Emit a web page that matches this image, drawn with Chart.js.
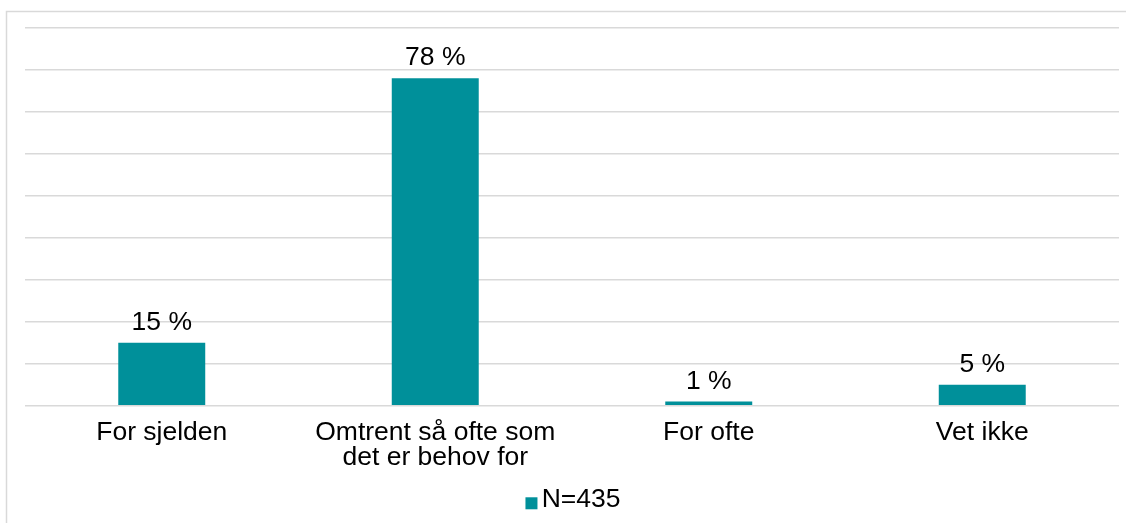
<!DOCTYPE html>
<html>
<head>
<meta charset="utf-8">
<script src="https://cdn.jsdelivr.net/npm/chart.js@4/dist/chart.umd.min.js"></script>
<style>
  html, body { margin: 0; padding: 0; background: #ffffff; }
  #wrap { width: 1126px; height: 523px; position: relative; }
</style>
</head>
<body>
<div id="wrap"><canvas id="c" width="1126" height="523"></canvas></div>
<script>
// Survey answers and share of respondents (%)
const categories = [
  ["For sjelden"],
  ["Omtrent så ofte som", "det er behov for"],
  ["For ofte"],
  ["Vet ikke"]
];
const shares = [15, 78, 1, 5];
const seriesLabel = "N=435";
const yTicks = { min: 0, max: 90, step: 10 };

const teal = "#00909A";
const gridGrey = "#d9d9d9";
const fontFamily = "'Liberation Sans', Arial, Helvetica, sans-serif";
const fontSize = 26.5;

// Thin frame along the top and left edge of the chart
const framePlugin = {
  id: "frame",
  beforeDraw(chart) {
    const ctx = chart.ctx;
    ctx.save();
    ctx.strokeStyle = gridGrey;
    ctx.lineWidth = 1.5;
    ctx.beginPath();
    ctx.moveTo(6.5, chart.height);
    ctx.lineTo(6.5, 11.5);
    ctx.lineTo(chart.width, 11.5);
    ctx.stroke();
    ctx.restore();
  }
};

// Value labels above each bar
const valueLabels = {
  id: "valueLabels",
  afterDatasetsDraw(chart) {
    const ctx = chart.ctx;
    ctx.save();
    ctx.font = fontSize + "px " + fontFamily;
    ctx.fillStyle = "#000000";
    ctx.textAlign = "center";
    ctx.textBaseline = "alphabetic";
    chart.data.datasets.forEach((ds, di) => {
      chart.getDatasetMeta(di).data.forEach((bar, i) => {
        ctx.fillText(ds.data[i] + " %", bar.x, bar.y - 13);
      });
    });
    ctx.restore();
  }
};

// Legend swatch sitting close to its text, bottom on the text baseline
const legendSwatch = {
  id: "legendSwatch",
  afterDraw(chart) {
    const lg = chart.legend;
    if (!lg || !lg.legendHitBoxes || !lg.legendHitBoxes.length) return;
    const hb = lg.legendHitBoxes[0];
    const ctx = chart.ctx;
    const size = 12;
    const cy = hb.top + hb.height / 2;
    const baseline = cy + fontSize * 0.36;
    ctx.save();
    ctx.fillStyle = chart.data.datasets[0].backgroundColor;
    ctx.fillRect(hb.left + 2, baseline - size, size, size);
    ctx.restore();
  }
};

new Chart(document.getElementById("c"), {
  type: "bar",
  data: {
    labels: categories,
    datasets: [{
      label: seriesLabel,
      data: shares,
      backgroundColor: teal,
      borderWidth: 0,
      categoryPercentage: 1.0,
      barPercentage: 0.318
    }]
  },
  options: {
    responsive: false,
    animation: false,
    devicePixelRatio: 1,
    layout: { padding: { left: 25, right: 7, top: 28, bottom: 0 } },
    plugins: {
      legend: {
        position: "bottom",
        labels: {
          font: { family: fontFamily, size: fontSize },
          color: "#000000",
          boxWidth: 5,
          boxHeight: 12,
          padding: 0,
          generateLabels(chart) {
            return chart.data.datasets.map((ds, i) => ({
              text: ds.label,
              fillStyle: "rgba(0,0,0,0)",
              strokeStyle: "rgba(0,0,0,0)",
              lineWidth: 0,
              fontColor: "#000000",
              hidden: false,
              datasetIndex: i
            }));
          }
        }
      },
      tooltip: { enabled: false }
    },
    scales: {
      x: {
        grid: { display: false, drawTicks: false },
        border: { display: false },
        ticks: {
          font: { family: fontFamily, size: fontSize, lineHeight: 0.92 },
          color: "#000000",
          padding: 15,
          maxRotation: 0,
          autoSkip: false
        },
        afterFit(scale) { scale.height += 2; }
      },
      y: {
        min: yTicks.min,
        max: yTicks.max,
        ticks: { display: false, stepSize: yTicks.step },
        grid: { color: gridGrey, lineWidth: 1.5, drawTicks: false },
        border: { display: false }
      }
    }
  },
  plugins: [framePlugin, valueLabels, legendSwatch]
});
</script>
</body>
</html>
